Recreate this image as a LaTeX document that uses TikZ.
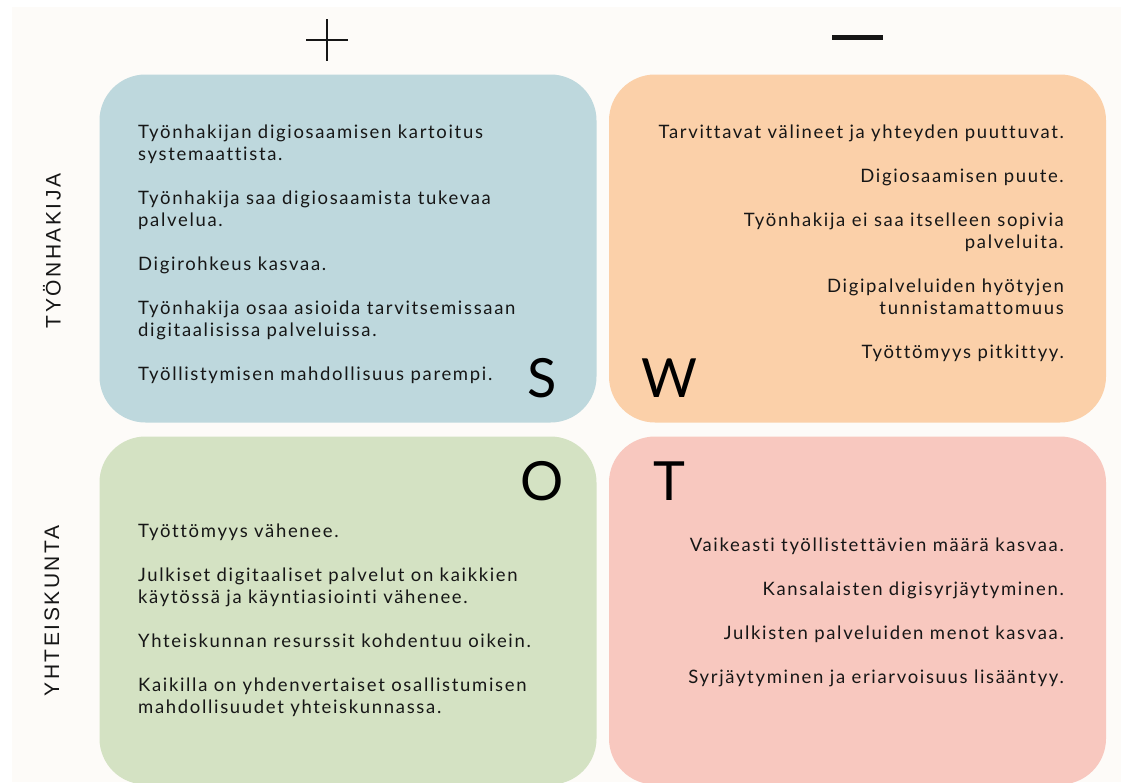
\documentclass[tikz,border=0pt]{standalone}
\usepackage{fontspec}
\setmainfont[LetterSpace=9,Ligatures={NoCommon}]{Lato}
\newfontfamily\swotfont{Lato}
\newfontfamily\sidefont[LetterSpace=12]{Liberation Sans}
\usetikzlibrary{positioning}

\definecolor{paper}{HTML}{FDFBF8}
\definecolor{sblue}{HTML}{BED8DD}
\definecolor{worange}{HTML}{FBD0A9}
\definecolor{ogreen}{HTML}{D4E2C3}
\definecolor{tpink}{HTML}{F8C8BF}
\definecolor{ink}{HTML}{161616}

\begin{document}
\begin{tikzpicture}[x=1pt,y=-1pt,
  quad/.style={rounded corners=46pt,minimum width=497pt,minimum height=348pt,inner sep=0pt},
  items/.style={font=\fontsize{18.5}{22}\selectfont,text=ink,inner sep=0pt},
  swot/.style={font=\swotfont\fontsize{54}{54}\selectfont,inner sep=0pt},
  side/.style={font=\sidefont\fontsize{21}{21}\selectfont,text=ink,rotate=90,inner sep=0pt}]
\useasboundingbox (0,0) rectangle (1121,782);
\fill[white] (0,0) rectangle (1121,782);
\fill[paper] (12,7) rectangle (1121,782);
\clip (0,0) rectangle (1121,782);

% the four fields
\node[quad,fill=sblue]   (S) at (348,248.5) {};
\node[quad,fill=worange] (W) at (857.5,248.5) {};
\node[quad,fill=ogreen]  (O) at (348,610.5) {};
\node[quad,fill=tpink]   (T) at (857.5,610.5) {};

% plus and minus
\draw[line width=2.6pt,ink] (306,40) -- (348,40) (327,19) -- (327,61);
\draw[line width=5pt,ink] (832,37) -- (883,37);

% row labels
\node[side] (tyonhakija) at (52,251) {TYÖNHAKIJA};
\node[side] (yhteiskunta) at (52,611) {YHTEISKUNTA};

% letters
\node[swot] (sl) at (542,378) {S};
\node[swot] (wl) at (669,378) {W};
\node[swot] (ol) at (542,481) {O};
\node[swot] (tl) at (669,481) {T};

% texts
\node[items,anchor=north west,align=left] (stext) at (138,125) {%
Työnhakijan digiosaamisen kartoitus\\ systemaattista.\\[22pt]
Työnhakija saa digiosaamista tukevaa\\ palvelua.\\[22pt]
Digirohkeus kasvaa.\\[22pt]
Työnhakija osaa asioida tarvitsemissaan\\ digitaalisissa palveluissa.\\[22pt]
Työllistymisen mahdollisuus parempi.};

\node[items,anchor=north east,align=right] (wtext) at (1064,125) {%
Tarvittavat välineet ja yhteyden puuttuvat.\\[22pt]
Digiosaamisen puute.\\[22pt]
Työnhakija ei saa itselleen sopivia\\ palveluita.\\[22pt]
Digipalveluiden hyötyjen\\ tunnistamattomuus\\[22pt]
Työttömyys pitkittyy.};

\node[items,anchor=north west,align=left] (otext) at (138,524) {%
Työttömyys vähenee.\\[22pt]
Julkiset digitaaliset palvelut on kaikkien\\ käytössä ja käyntiasiointi vähenee.\\[22pt]
Yhteiskunnan resurssit kohdentuu oikein.\\[22pt]
Kaikilla on yhdenvertaiset osallistumisen\\ mahdollisuudet yhteiskunnassa.};

\node[items,anchor=north east,align=right] (ttext) at (1064,538) {%
Vaikeasti työllistettävien määrä kasvaa.\\[22pt]
Kansalaisten digisyrjäytyminen.\\[22pt]
Julkisten palveluiden menot kasvaa.\\[22pt]
Syrjäytyminen ja eriarvoisuus lisääntyy.};
\end{tikzpicture}
\end{document}
